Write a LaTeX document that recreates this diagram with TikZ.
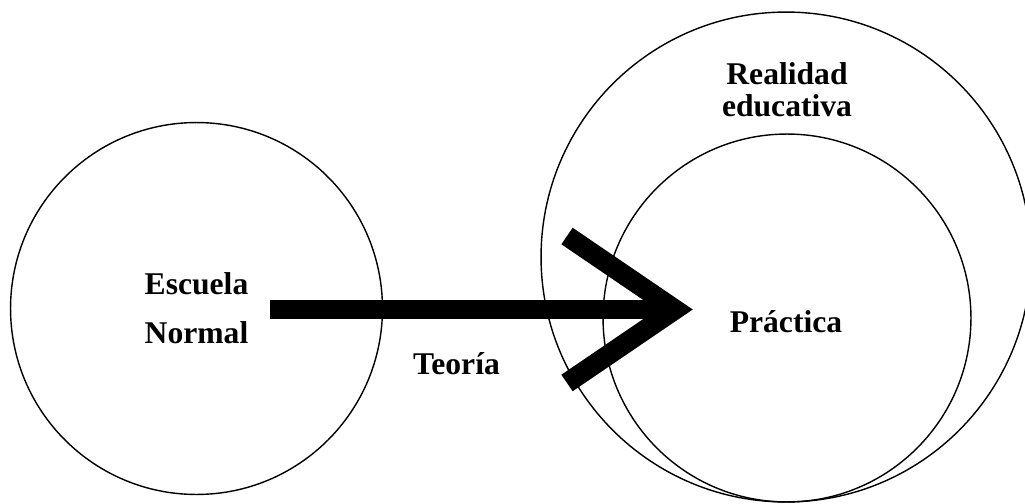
\documentclass[tikz,border=0pt]{standalone}
\usepackage{fontspec}
\setmainfont{Liberation Serif}
\usepackage{tikz}
\usetikzlibrary{positioning}

\begin{document}
\begin{tikzpicture}[
		x=0.02cm, y=-0.02cm,
		ring/.style={
			draw,
			circle,
			line width=0.8pt,
			inner sep=0pt
		},
		word/.style={
			font=\fontsize{18}{18}\selectfont\bfseries,
			align=center,
			inner sep=2pt
		},
		bar/.style={
			line width=0.38cm
		},
		barb/.style={
			line width=0.4cm,
			miter limit=10
		}
		]
		\useasboundingbox (0,0) rectangle (1025,504);
		
		\node[ring, minimum size=7.44cm] (escring) at (196.5,308.5) {};
		\node[ring, minimum size=9.8cm] (rearing) at (786,257) {};
		\node[ring, minimum size=7.36cm] (praring) at (787,318) {};
		
		\node[word, font=\fontsize{18}{28}\selectfont\bfseries] at (196.5,308) 
		(esc) {Escuela\\Normal};
		\node[word] at (787,90) (rea) {Realidad\\educativa};
		\node[word] at (786,321.5) (pra) {Práctica};
		\node[word] at (456.5,364) (teo) {Teoría};
		
		\coordinate (tip) at (675,309.5);
		
		\draw[bar] ([xshift=0.35cm]tip -| esc.east) -- (tip);
		\draw[barb] ([shift={(-108,-73.5)}]tip) -- (tip) -- ([shift={(-108,73.5)}]tip);
		
		\end{tikzpicture}
\end{document}
